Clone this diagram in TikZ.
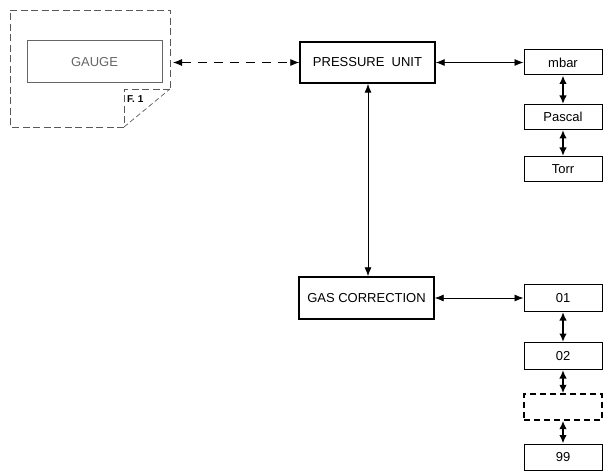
\documentclass[tikz,border=0pt]{standalone}
\usepackage{fontspec}
\setmainfont{Liberation Sans}
\usetikzlibrary{arrows.meta}
\begin{document}
\begin{tikzpicture}[x=1pt,y=-1pt,
  box/.style={draw,line width=1pt,inner sep=0pt,font=\fontsize{13}{15}\selectfont},
  bigbox/.style={box,line width=1.4pt,minimum width=135pt,minimum height=41pt},
  colbox/.style={box,minimum width=78pt,minimum height=25pt},
  harrow/.style={{Latex[length=9pt,width=7pt]}-{Latex[length=9pt,width=7pt]},line width=0.8pt},
  varrow/.style={{Latex[length=8.5pt,width=7.5pt]}-{Latex[length=8.5pt,width=7.5pt]},line width=1.8pt},
  gaugeline/.style={draw=black!65,line width=0.9pt,dash pattern=on 7pt off 3.5pt}]
\useasboundingbox (0,0) rectangle (608,473);
% gauge outline with folded corner
\draw[gaugeline] (124,127) -- (10,127) -- (10,10) -- (170,10) -- (170,89);
\draw[gaugeline] (170,89) -- (124,89) -- (124,127);
\draw[draw=black!65,line width=0.7pt,dash pattern=on 5pt off 3pt] (124,127) -- (170,89);
\node[box,draw=black!60,text=black!60,minimum width=135pt,minimum height=42pt] (gauge) at (94.5,62) {GAUGE};
\node[anchor=west,inner sep=0pt,font=\fontsize{10}{11}\selectfont\bfseries] (f1) at (127,99) {F. 1};
\coordinate (gright) at (173,62.5);
% main boxes
\node[bigbox] (pu) at (367.5,62.5) {PRESSURE\ \ UNIT};
\node[bigbox,minimum height=42pt] (gc) at (366.5,298) {GAS CORRECTION};
% pressure unit column
\node[colbox] (mbar) at (563,62.5) {mbar};
\node[colbox] (pascal) at (563,117) {Pascal};
\node[colbox] (torr) at (563,169) {Torr};
% gas correction column
\node[colbox,minimum height=27pt] (g01) at (563,298) {01};
\node[colbox,minimum height=27pt] (g02) at (563,356) {02};
\node[colbox,minimum height=26pt,line width=1.4pt,dash pattern=on 6pt off 4pt] (gdots) at (563,407) {};
\node[colbox,minimum height=26pt] (g99) at (563,457) {99};
% connectors
\draw[harrow,dash pattern=on 9pt off 7pt] (gright) -- (pu.west);
\draw[harrow] (pu.east) -- (mbar.west);
\draw[harrow] (gc.east) -- (g01.west);
\draw[{Latex[length=9pt,width=7pt]}-{Latex[length=9pt,width=7pt]},line width=0.9pt] (pu.south) ++(0.5,0) coordinate (pus) (pus) -- (pus |- gc.north);
\draw[varrow] (mbar) -- (pascal);
\draw[varrow] (pascal) -- (torr);
\draw[varrow] (g01) -- (g02);
\draw[varrow] (g02) -- (gdots);
\draw[varrow] (gdots) -- (g99);
\end{tikzpicture}
\end{document}
